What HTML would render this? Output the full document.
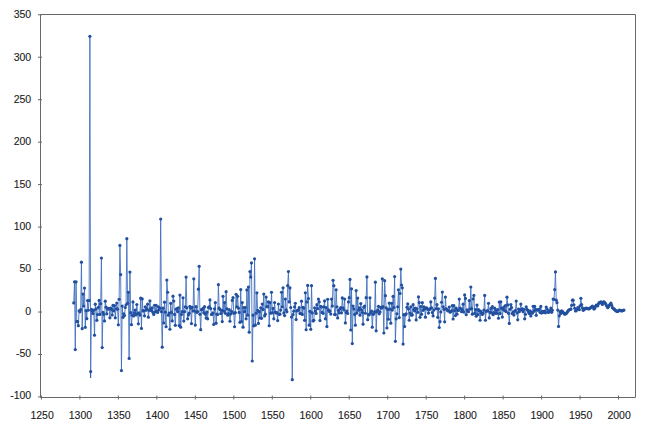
<!DOCTYPE html>
<html><head><meta charset="utf-8"><style>
html,body{margin:0;padding:0;background:#fff;}
body{width:645px;height:427px;overflow:hidden;position:relative;font-family:"Liberation Sans",sans-serif;}
svg{position:absolute;left:0;top:0;}
text{font-family:"Liberation Sans",sans-serif;font-size:10.5px;fill:#1a1a1a;stroke:#1a1a1a;stroke-width:0.1px;}
</style></head><body>
<svg width="645" height="427" viewBox="0 0 645 427">
<path d="M38 396.95H42M38 354.49H42M38 312.02H42M38 269.55H42M38 227.09H42M38 184.62H42M38 142.15H42M38 99.68H42M38 57.22H42M38 14.75H42M41.41 395.5V399.5M79.89 395.5V399.5M118.36 395.5V399.5M156.84 395.5V399.5M195.32 395.5V399.5M233.79 395.5V399.5M272.27 395.5V399.5M310.75 395.5V399.5M349.23 395.5V399.5M387.70 395.5V399.5M426.18 395.5V399.5M464.66 395.5V399.5M503.13 395.5V399.5M541.61 395.5V399.5M580.09 395.5V399.5M618.56 395.5V399.5" fill="none" stroke="#686868" stroke-width="1"/>
<text x="31.2" y="399.35" text-anchor="end">-100</text>
<text x="31.2" y="357.00" text-anchor="end">-50</text>
<text x="31.2" y="314.64" text-anchor="end">0</text>
<text x="31.2" y="272.29" text-anchor="end">50</text>
<text x="31.2" y="229.93" text-anchor="end">100</text>
<text x="31.2" y="187.57" text-anchor="end">150</text>
<text x="31.2" y="145.22" text-anchor="end">200</text>
<text x="31.2" y="102.86" text-anchor="end">250</text>
<text x="31.2" y="60.51" text-anchor="end">300</text>
<text x="31.2" y="18.15" text-anchor="end">350</text>
<text x="42.1" y="418.6" text-anchor="middle">1250</text>
<text x="80.4" y="418.6" text-anchor="middle">1300</text>
<text x="118.9" y="418.6" text-anchor="middle">1350</text>
<text x="157.3" y="418.6" text-anchor="middle">1400</text>
<text x="195.8" y="418.6" text-anchor="middle">1450</text>
<text x="234.3" y="418.6" text-anchor="middle">1500</text>
<text x="272.8" y="418.6" text-anchor="middle">1550</text>
<text x="311.2" y="418.6" text-anchor="middle">1600</text>
<text x="349.7" y="418.6" text-anchor="middle">1650</text>
<text x="388.2" y="418.6" text-anchor="middle">1700</text>
<text x="426.7" y="418.6" text-anchor="middle">1750</text>
<text x="465.2" y="418.6" text-anchor="middle">1800</text>
<text x="503.6" y="418.6" text-anchor="middle">1850</text>
<text x="542.1" y="418.6" text-anchor="middle">1900</text>
<text x="580.6" y="418.6" text-anchor="middle">1950</text>
<text x="619.1" y="418.6" text-anchor="middle">2000</text>
<path d="M73.73 302.90 74.50 281.80 75.27 349.60 76.04 281.80 76.81 321.60 77.58 321.60 78.35 325.65 79.12 310.81 79.89 311.85 80.66 309.71 81.43 262.20 82.20 328.65 82.97 294.05 83.73 306.00 84.50 288.05 85.27 327.35 86.04 310.67 86.81 318.65 87.58 300.50 88.35 310.24 89.12 300.50 89.89 36.30 90.66 371.60 91.43 309.43 92.20 311.00 92.97 313.53 93.74 310.20 94.51 335.20 95.28 304.15 96.05 309.00 96.82 320.35 97.59 314.50 98.36 307.33 99.13 300.45 99.90 314.46 100.66 303.75 101.43 258.00 102.20 347.60 102.97 312.33 103.74 314.49 104.51 320.96 105.28 301.20 106.05 307.16 106.82 313.80 107.59 309.00 108.36 308.35 109.13 308.90 109.90 317.85 110.67 308.20 111.44 309.30 112.21 314.99 112.98 305.40 113.75 311.00 114.52 305.58 115.29 317.85 116.06 308.75 116.82 303.05 117.59 309.14 118.36 324.84 119.13 299.35 119.90 245.40 120.67 274.60 121.44 370.60 122.21 306.10 122.98 317.30 123.75 313.81 124.52 315.50 125.29 307.50 126.06 304.75 126.83 238.70 127.60 303.30 128.37 292.30 129.14 358.40 129.91 272.10 130.68 312.70 131.45 324.70 132.22 315.26 132.99 301.95 133.75 315.90 134.52 313.00 135.29 310.03 136.06 314.81 136.83 304.50 137.60 313.48 138.37 323.83 139.14 312.95 139.91 315.11 140.68 298.20 141.45 328.46 142.22 298.95 142.99 310.69 143.76 310.92 144.53 315.80 145.30 306.83 146.07 310.13 146.84 308.89 147.61 304.15 148.38 317.15 149.15 310.32 149.92 300.97 150.68 308.67 151.45 310.75 152.22 307.85 152.99 312.58 153.76 314.50 154.53 305.25 155.30 312.00 156.07 305.27 156.84 311.00 157.61 312.40 158.38 306.86 159.15 309.80 159.92 308.21 160.69 219.00 161.46 311.70 162.23 347.20 163.00 308.20 163.77 323.00 164.54 302.17 165.31 312.21 166.08 326.75 166.85 280.00 167.61 292.25 168.38 315.20 169.15 313.07 169.92 329.24 170.69 303.35 171.46 312.47 172.23 320.90 173.00 296.15 173.77 301.10 174.54 314.40 175.31 325.33 176.08 309.25 176.85 308.49 177.62 311.60 178.39 307.80 179.16 325.60 179.93 295.05 180.70 327.20 181.47 314.50 182.24 311.71 183.01 297.75 183.77 321.10 184.54 311.70 185.31 306.86 186.08 277.10 186.85 307.80 187.62 318.80 188.39 314.98 189.16 313.21 189.93 306.35 190.70 308.20 191.47 323.55 192.24 307.26 193.01 311.00 193.78 278.80 194.55 311.00 195.32 325.10 196.09 306.67 196.86 312.40 197.63 311.62 198.40 289.15 199.17 266.30 199.94 314.37 200.70 329.65 201.47 309.65 202.24 309.60 203.01 308.38 203.78 312.70 204.55 306.70 205.32 314.25 206.09 318.05 206.86 312.16 207.63 318.80 208.40 307.50 209.17 306.81 209.94 299.90 210.71 308.55 211.48 314.50 212.25 313.99 213.02 312.90 213.79 324.40 214.56 308.90 215.33 302.70 216.10 323.20 216.87 314.13 217.63 314.48 218.40 284.70 219.17 308.22 219.94 309.60 220.71 313.48 221.48 310.24 222.25 321.60 223.02 296.30 223.79 311.20 224.56 302.60 225.33 313.37 226.10 291.65 226.87 308.78 227.64 315.20 228.41 313.88 229.18 309.52 229.95 321.25 230.72 314.00 231.49 311.42 232.26 300.45 233.03 297.70 233.79 313.18 234.56 326.76 235.33 312.70 236.10 294.25 236.87 306.75 237.64 296.30 238.41 308.17 239.18 312.41 239.95 322.30 240.72 289.60 241.49 321.60 242.26 302.53 243.03 327.20 243.80 307.48 244.57 311.70 245.34 307.50 246.11 318.80 246.88 289.95 247.65 315.20 248.42 287.00 249.19 332.20 249.96 271.50 250.72 277.10 251.49 262.90 252.26 361.00 253.03 315.20 253.80 325.80 254.57 258.80 255.34 325.20 256.11 313.20 256.88 292.80 257.65 310.30 258.42 323.40 259.19 311.65 259.96 318.00 260.73 307.74 261.50 318.30 262.27 304.00 263.04 309.54 263.81 294.05 264.58 315.90 265.35 314.14 266.12 297.10 266.89 306.59 267.65 306.80 268.42 301.90 269.19 325.75 269.96 302.60 270.73 313.18 271.50 292.25 272.27 312.80 273.04 308.43 273.81 318.80 274.58 302.60 275.35 312.20 276.12 313.10 276.89 312.48 277.66 320.60 278.43 304.00 279.20 314.37 279.97 314.23 280.74 310.04 281.51 292.25 282.28 306.80 283.05 287.80 283.82 312.93 284.58 315.60 285.35 299.10 286.12 309.89 286.89 311.83 287.66 285.65 288.43 271.50 289.20 301.90 289.97 287.80 290.74 307.50 291.51 317.10 292.28 379.70 293.05 314.50 293.82 311.15 294.59 306.85 295.36 303.25 296.13 319.60 296.90 310.88 297.67 310.30 298.44 310.11 299.21 307.63 299.98 313.44 300.74 313.68 301.51 301.13 302.28 314.40 303.05 307.28 303.82 308.05 304.59 320.34 305.36 292.77 306.13 329.76 306.90 301.90 307.67 285.47 308.44 298.53 309.21 325.20 309.98 311.35 310.75 329.36 311.52 285.66 312.29 312.88 313.06 320.90 313.83 320.30 314.60 307.85 315.37 311.00 316.14 313.38 316.91 304.70 317.67 308.72 318.44 299.10 319.21 301.90 319.98 320.56 320.75 306.45 321.52 307.01 322.29 312.40 323.06 313.32 323.83 306.92 324.60 300.90 325.37 318.80 326.14 307.50 326.91 326.54 327.68 299.26 328.45 309.86 329.22 311.42 329.99 311.00 330.76 314.11 331.53 299.10 332.30 306.10 333.07 280.30 333.84 285.65 334.60 314.50 335.37 314.66 336.14 289.80 336.91 306.81 337.68 317.90 338.45 310.30 339.22 312.97 339.99 309.00 340.76 307.50 341.53 312.81 342.30 297.90 343.07 307.99 343.84 309.93 344.61 299.10 345.38 322.95 346.15 312.50 346.92 311.00 347.69 313.51 348.46 301.90 349.23 297.70 350.00 279.40 350.77 330.00 351.53 288.80 352.30 343.55 353.07 306.10 353.84 308.88 354.61 314.41 355.38 325.20 356.15 290.60 356.92 313.06 357.69 298.10 358.46 310.24 359.23 307.76 360.00 315.20 360.77 303.55 361.54 309.78 362.31 312.61 363.08 324.20 363.85 307.20 364.62 306.10 365.39 313.26 366.16 297.70 366.93 276.90 367.69 319.70 368.46 314.50 369.23 314.85 370.00 297.75 370.77 312.71 371.54 311.20 372.31 327.20 373.08 314.48 373.85 313.50 374.62 311.70 375.39 282.20 376.16 330.80 376.93 311.86 377.70 310.13 378.47 306.35 379.24 313.87 380.01 311.92 380.78 307.43 381.55 308.20 382.32 278.80 383.09 306.67 383.86 333.00 384.62 280.70 385.39 295.64 386.16 307.85 386.93 328.00 387.70 309.41 388.47 319.25 389.24 303.03 390.01 309.12 390.78 323.20 391.55 303.30 392.32 310.03 393.09 296.30 393.86 307.50 394.63 276.60 395.40 341.30 396.17 318.80 396.94 313.80 397.71 306.80 398.48 289.80 399.25 317.55 400.02 293.40 400.79 269.10 401.55 285.00 402.32 287.80 403.09 344.10 403.86 314.70 404.63 326.55 405.40 314.84 406.17 313.80 406.94 307.26 407.71 303.90 408.48 309.04 409.25 320.25 410.02 313.10 410.79 306.81 411.56 315.20 412.33 314.81 413.10 304.70 413.87 309.59 414.64 310.90 415.41 308.20 416.18 319.90 416.95 308.79 417.72 312.28 418.48 296.90 419.25 302.60 420.02 317.30 420.79 306.51 421.56 314.36 422.33 302.70 423.10 310.36 423.87 306.80 424.64 308.73 425.41 317.20 426.18 307.94 426.95 308.20 427.72 309.33 428.49 313.10 429.26 309.61 430.03 308.85 430.80 301.90 431.57 307.82 432.34 312.60 433.11 315.90 433.88 310.08 434.64 298.10 435.41 278.40 436.18 308.61 436.95 304.70 437.72 317.30 438.49 308.82 439.26 327.50 440.03 321.60 440.80 311.90 441.57 302.25 442.34 292.05 443.11 306.80 443.88 309.37 444.65 321.85 445.42 297.10 446.19 308.87 446.96 309.60 447.73 310.85 448.50 310.49 449.27 307.00 450.04 312.14 450.81 311.70 451.57 310.78 452.34 305.60 453.11 319.00 453.88 305.70 454.65 310.60 455.42 315.60 456.19 308.20 456.96 314.19 457.73 310.30 458.50 310.39 459.27 299.10 460.04 307.99 460.81 308.76 461.58 311.65 462.35 309.79 463.12 304.20 463.89 312.10 464.66 294.90 465.43 298.40 466.20 314.68 466.97 309.74 467.74 310.79 468.50 311.75 469.27 300.55 470.04 309.04 470.81 287.00 471.58 308.55 472.35 314.17 473.12 298.95 473.89 295.47 474.66 313.45 475.43 309.64 476.20 316.25 476.97 305.00 477.74 314.53 478.51 309.60 479.28 310.65 480.05 320.27 480.82 311.47 481.59 313.10 482.36 314.50 483.13 313.18 483.90 309.99 484.67 295.45 485.43 320.27 486.20 311.36 486.97 311.00 487.74 310.56 488.51 303.35 489.28 317.90 490.05 312.40 490.82 308.49 491.59 313.00 492.36 306.55 493.13 314.66 493.90 312.69 494.67 308.20 495.44 313.30 496.21 310.13 496.98 313.36 497.75 309.60 498.52 318.26 499.29 302.00 500.06 313.58 500.83 301.80 501.59 308.20 502.36 317.05 503.13 309.28 503.90 307.00 504.67 310.53 505.44 305.60 506.21 311.64 506.98 297.17 507.75 304.90 508.52 313.35 509.29 323.40 510.06 309.34 510.83 304.56 511.60 307.50 512.37 313.70 513.14 312.22 513.91 315.10 514.68 311.20 515.45 310.49 516.22 301.03 516.99 312.88 517.76 319.80 518.52 309.00 519.29 311.69 520.06 309.80 520.83 304.04 521.60 309.78 522.37 308.90 523.14 311.70 523.91 309.23 524.68 318.82 525.45 314.25 526.22 306.73 526.99 309.40 527.76 310.30 528.53 311.93 529.30 313.60 530.07 310.92 530.84 315.97 531.61 312.27 532.38 313.19 533.15 306.23 533.92 311.36 534.69 306.45 535.45 309.62 536.22 315.28 536.99 309.57 537.76 310.26 538.53 309.80 539.30 309.05 540.07 312.48 540.84 306.47 541.61 313.03 542.38 311.45 543.15 311.60 543.92 312.49 544.69 311.00 545.46 312.80 546.23 307.00 547.00 309.10 547.77 311.78 548.54 312.50 549.31 310.70 550.08 311.37 550.85 308.04 551.62 312.28 552.38 310.30 553.15 299.07 553.92 299.36 554.69 289.60 555.46 271.93 556.23 300.21 557.00 302.68 557.77 310.07 558.54 326.46 559.31 315.84 560.08 311.68 560.85 313.38 561.62 310.91 562.39 311.54 563.16 312.34 563.93 313.26 564.70 314.18 565.47 313.89 566.24 313.42 567.01 312.58 567.78 311.41 568.54 310.24 569.31 309.75 570.08 309.45 570.85 309.14 571.62 305.28 572.39 300.20 573.16 300.20 573.93 304.84 574.70 308.27 575.47 310.99 576.24 310.74 577.01 309.23 577.78 307.72 578.55 307.77 579.32 309.69 580.09 305.73 580.86 298.36 581.63 304.61 582.40 307.93 583.17 310.34 583.94 309.65 584.71 308.97 585.47 308.28 586.24 308.03 587.01 308.33 587.78 308.61 588.55 308.90 589.32 308.65 590.09 308.12 590.86 307.48 591.63 306.83 592.40 306.19 593.17 307.48 593.94 309.06 594.71 308.30 595.48 306.33 596.25 305.16 597.02 305.66 597.79 305.85 598.56 303.60 599.33 302.65 600.10 302.29 600.87 301.91 601.64 303.17 602.40 304.49 603.17 302.19 603.94 301.83 604.71 302.70 605.48 303.58 606.25 304.94 607.02 306.33 607.79 307.71 608.56 306.58 609.33 305.26 610.10 304.23 610.87 303.20 611.64 305.16 612.41 307.66 613.18 308.27 613.95 308.95 614.72 309.72 615.49 310.42 616.26 310.94 617.03 311.45 617.80 311.38 618.56 310.75 619.33 310.13 620.10 310.29 620.87 310.65 621.64 310.98 622.41 310.68 623.18 310.36 623.95 310.06" fill="none" stroke="#3b6bbd" stroke-width="0.85" stroke-linejoin="miter" stroke-miterlimit="4"/>
<path d="M90.6 371.5V378" stroke="#2e5fb2" stroke-width="1.2"/>
<g fill="#22509f"><circle cx="73.73" cy="302.90" r="1.6"/><circle cx="74.50" cy="281.80" r="1.6"/><circle cx="75.27" cy="349.60" r="1.6"/><circle cx="76.04" cy="281.80" r="1.6"/><circle cx="76.81" cy="321.60" r="1.6"/><circle cx="77.58" cy="321.60" r="1.6"/><circle cx="78.35" cy="325.65" r="1.6"/><circle cx="79.12" cy="310.81" r="1.6"/><circle cx="79.89" cy="311.85" r="1.6"/><circle cx="80.66" cy="309.71" r="1.6"/><circle cx="81.43" cy="262.20" r="1.6"/><circle cx="82.20" cy="328.65" r="1.6"/><circle cx="82.97" cy="294.05" r="1.6"/><circle cx="83.73" cy="306.00" r="1.6"/><circle cx="84.50" cy="288.05" r="1.6"/><circle cx="85.27" cy="327.35" r="1.6"/><circle cx="86.04" cy="310.67" r="1.6"/><circle cx="86.81" cy="318.65" r="1.6"/><circle cx="87.58" cy="300.50" r="1.6"/><circle cx="88.35" cy="310.24" r="1.6"/><circle cx="89.12" cy="300.50" r="1.6"/><circle cx="89.89" cy="36.30" r="1.6"/><circle cx="90.66" cy="371.60" r="1.6"/><circle cx="91.43" cy="309.43" r="1.6"/><circle cx="92.20" cy="311.00" r="1.6"/><circle cx="92.97" cy="313.53" r="1.6"/><circle cx="93.74" cy="310.20" r="1.6"/><circle cx="94.51" cy="335.20" r="1.6"/><circle cx="95.28" cy="304.15" r="1.6"/><circle cx="96.05" cy="309.00" r="1.6"/><circle cx="96.82" cy="320.35" r="1.6"/><circle cx="97.59" cy="314.50" r="1.6"/><circle cx="98.36" cy="307.33" r="1.6"/><circle cx="99.13" cy="300.45" r="1.6"/><circle cx="99.90" cy="314.46" r="1.6"/><circle cx="100.66" cy="303.75" r="1.6"/><circle cx="101.43" cy="258.00" r="1.6"/><circle cx="102.20" cy="347.60" r="1.6"/><circle cx="102.97" cy="312.33" r="1.6"/><circle cx="103.74" cy="314.49" r="1.6"/><circle cx="104.51" cy="320.96" r="1.6"/><circle cx="105.28" cy="301.20" r="1.6"/><circle cx="106.05" cy="307.16" r="1.6"/><circle cx="106.82" cy="313.80" r="1.6"/><circle cx="107.59" cy="309.00" r="1.6"/><circle cx="108.36" cy="308.35" r="1.6"/><circle cx="109.13" cy="308.90" r="1.6"/><circle cx="109.90" cy="317.85" r="1.6"/><circle cx="110.67" cy="308.20" r="1.6"/><circle cx="111.44" cy="309.30" r="1.6"/><circle cx="112.21" cy="314.99" r="1.6"/><circle cx="112.98" cy="305.40" r="1.6"/><circle cx="113.75" cy="311.00" r="1.6"/><circle cx="114.52" cy="305.58" r="1.6"/><circle cx="115.29" cy="317.85" r="1.6"/><circle cx="116.06" cy="308.75" r="1.6"/><circle cx="116.82" cy="303.05" r="1.6"/><circle cx="117.59" cy="309.14" r="1.6"/><circle cx="118.36" cy="324.84" r="1.6"/><circle cx="119.13" cy="299.35" r="1.6"/><circle cx="119.90" cy="245.40" r="1.6"/><circle cx="120.67" cy="274.60" r="1.6"/><circle cx="121.44" cy="370.60" r="1.6"/><circle cx="122.21" cy="306.10" r="1.6"/><circle cx="122.98" cy="317.30" r="1.6"/><circle cx="123.75" cy="313.81" r="1.6"/><circle cx="124.52" cy="315.50" r="1.6"/><circle cx="125.29" cy="307.50" r="1.6"/><circle cx="126.06" cy="304.75" r="1.6"/><circle cx="126.83" cy="238.70" r="1.6"/><circle cx="127.60" cy="303.30" r="1.6"/><circle cx="128.37" cy="292.30" r="1.6"/><circle cx="129.14" cy="358.40" r="1.6"/><circle cx="129.91" cy="272.10" r="1.6"/><circle cx="130.68" cy="312.70" r="1.6"/><circle cx="131.45" cy="324.70" r="1.6"/><circle cx="132.22" cy="315.26" r="1.6"/><circle cx="132.99" cy="301.95" r="1.6"/><circle cx="133.75" cy="315.90" r="1.6"/><circle cx="134.52" cy="313.00" r="1.6"/><circle cx="135.29" cy="310.03" r="1.6"/><circle cx="136.06" cy="314.81" r="1.6"/><circle cx="136.83" cy="304.50" r="1.6"/><circle cx="137.60" cy="313.48" r="1.6"/><circle cx="138.37" cy="323.83" r="1.6"/><circle cx="139.14" cy="312.95" r="1.6"/><circle cx="139.91" cy="315.11" r="1.6"/><circle cx="140.68" cy="298.20" r="1.6"/><circle cx="141.45" cy="328.46" r="1.6"/><circle cx="142.22" cy="298.95" r="1.6"/><circle cx="142.99" cy="310.69" r="1.6"/><circle cx="143.76" cy="310.92" r="1.6"/><circle cx="144.53" cy="315.80" r="1.6"/><circle cx="145.30" cy="306.83" r="1.6"/><circle cx="146.07" cy="310.13" r="1.6"/><circle cx="146.84" cy="308.89" r="1.6"/><circle cx="147.61" cy="304.15" r="1.6"/><circle cx="148.38" cy="317.15" r="1.6"/><circle cx="149.15" cy="310.32" r="1.6"/><circle cx="149.92" cy="300.97" r="1.6"/><circle cx="150.68" cy="308.67" r="1.6"/><circle cx="151.45" cy="310.75" r="1.6"/><circle cx="152.22" cy="307.85" r="1.6"/><circle cx="152.99" cy="312.58" r="1.6"/><circle cx="153.76" cy="314.50" r="1.6"/><circle cx="154.53" cy="305.25" r="1.6"/><circle cx="155.30" cy="312.00" r="1.6"/><circle cx="156.07" cy="305.27" r="1.6"/><circle cx="156.84" cy="311.00" r="1.6"/><circle cx="157.61" cy="312.40" r="1.6"/><circle cx="158.38" cy="306.86" r="1.6"/><circle cx="159.15" cy="309.80" r="1.6"/><circle cx="159.92" cy="308.21" r="1.6"/><circle cx="160.69" cy="219.00" r="1.6"/><circle cx="161.46" cy="311.70" r="1.6"/><circle cx="162.23" cy="347.20" r="1.6"/><circle cx="163.00" cy="308.20" r="1.6"/><circle cx="163.77" cy="323.00" r="1.6"/><circle cx="164.54" cy="302.17" r="1.6"/><circle cx="165.31" cy="312.21" r="1.6"/><circle cx="166.08" cy="326.75" r="1.6"/><circle cx="166.85" cy="280.00" r="1.6"/><circle cx="167.61" cy="292.25" r="1.6"/><circle cx="168.38" cy="315.20" r="1.6"/><circle cx="169.15" cy="313.07" r="1.6"/><circle cx="169.92" cy="329.24" r="1.6"/><circle cx="170.69" cy="303.35" r="1.6"/><circle cx="171.46" cy="312.47" r="1.6"/><circle cx="172.23" cy="320.90" r="1.6"/><circle cx="173.00" cy="296.15" r="1.6"/><circle cx="173.77" cy="301.10" r="1.6"/><circle cx="174.54" cy="314.40" r="1.6"/><circle cx="175.31" cy="325.33" r="1.6"/><circle cx="176.08" cy="309.25" r="1.6"/><circle cx="176.85" cy="308.49" r="1.6"/><circle cx="177.62" cy="311.60" r="1.6"/><circle cx="178.39" cy="307.80" r="1.6"/><circle cx="179.16" cy="325.60" r="1.6"/><circle cx="179.93" cy="295.05" r="1.6"/><circle cx="180.70" cy="327.20" r="1.6"/><circle cx="181.47" cy="314.50" r="1.6"/><circle cx="182.24" cy="311.71" r="1.6"/><circle cx="183.01" cy="297.75" r="1.6"/><circle cx="183.77" cy="321.10" r="1.6"/><circle cx="184.54" cy="311.70" r="1.6"/><circle cx="185.31" cy="306.86" r="1.6"/><circle cx="186.08" cy="277.10" r="1.6"/><circle cx="186.85" cy="307.80" r="1.6"/><circle cx="187.62" cy="318.80" r="1.6"/><circle cx="188.39" cy="314.98" r="1.6"/><circle cx="189.16" cy="313.21" r="1.6"/><circle cx="189.93" cy="306.35" r="1.6"/><circle cx="190.70" cy="308.20" r="1.6"/><circle cx="191.47" cy="323.55" r="1.6"/><circle cx="192.24" cy="307.26" r="1.6"/><circle cx="193.01" cy="311.00" r="1.6"/><circle cx="193.78" cy="278.80" r="1.6"/><circle cx="194.55" cy="311.00" r="1.6"/><circle cx="195.32" cy="325.10" r="1.6"/><circle cx="196.09" cy="306.67" r="1.6"/><circle cx="196.86" cy="312.40" r="1.6"/><circle cx="197.63" cy="311.62" r="1.6"/><circle cx="198.40" cy="289.15" r="1.6"/><circle cx="199.17" cy="266.30" r="1.6"/><circle cx="199.94" cy="314.37" r="1.6"/><circle cx="200.70" cy="329.65" r="1.6"/><circle cx="201.47" cy="309.65" r="1.6"/><circle cx="202.24" cy="309.60" r="1.6"/><circle cx="203.01" cy="308.38" r="1.6"/><circle cx="203.78" cy="312.70" r="1.6"/><circle cx="204.55" cy="306.70" r="1.6"/><circle cx="205.32" cy="314.25" r="1.6"/><circle cx="206.09" cy="318.05" r="1.6"/><circle cx="206.86" cy="312.16" r="1.6"/><circle cx="207.63" cy="318.80" r="1.6"/><circle cx="208.40" cy="307.50" r="1.6"/><circle cx="209.17" cy="306.81" r="1.6"/><circle cx="209.94" cy="299.90" r="1.6"/><circle cx="210.71" cy="308.55" r="1.6"/><circle cx="211.48" cy="314.50" r="1.6"/><circle cx="212.25" cy="313.99" r="1.6"/><circle cx="213.02" cy="312.90" r="1.6"/><circle cx="213.79" cy="324.40" r="1.6"/><circle cx="214.56" cy="308.90" r="1.6"/><circle cx="215.33" cy="302.70" r="1.6"/><circle cx="216.10" cy="323.20" r="1.6"/><circle cx="216.87" cy="314.13" r="1.6"/><circle cx="217.63" cy="314.48" r="1.6"/><circle cx="218.40" cy="284.70" r="1.6"/><circle cx="219.17" cy="308.22" r="1.6"/><circle cx="219.94" cy="309.60" r="1.6"/><circle cx="220.71" cy="313.48" r="1.6"/><circle cx="221.48" cy="310.24" r="1.6"/><circle cx="222.25" cy="321.60" r="1.6"/><circle cx="223.02" cy="296.30" r="1.6"/><circle cx="223.79" cy="311.20" r="1.6"/><circle cx="224.56" cy="302.60" r="1.6"/><circle cx="225.33" cy="313.37" r="1.6"/><circle cx="226.10" cy="291.65" r="1.6"/><circle cx="226.87" cy="308.78" r="1.6"/><circle cx="227.64" cy="315.20" r="1.6"/><circle cx="228.41" cy="313.88" r="1.6"/><circle cx="229.18" cy="309.52" r="1.6"/><circle cx="229.95" cy="321.25" r="1.6"/><circle cx="230.72" cy="314.00" r="1.6"/><circle cx="231.49" cy="311.42" r="1.6"/><circle cx="232.26" cy="300.45" r="1.6"/><circle cx="233.03" cy="297.70" r="1.6"/><circle cx="233.79" cy="313.18" r="1.6"/><circle cx="234.56" cy="326.76" r="1.6"/><circle cx="235.33" cy="312.70" r="1.6"/><circle cx="236.10" cy="294.25" r="1.6"/><circle cx="236.87" cy="306.75" r="1.6"/><circle cx="237.64" cy="296.30" r="1.6"/><circle cx="238.41" cy="308.17" r="1.6"/><circle cx="239.18" cy="312.41" r="1.6"/><circle cx="239.95" cy="322.30" r="1.6"/><circle cx="240.72" cy="289.60" r="1.6"/><circle cx="241.49" cy="321.60" r="1.6"/><circle cx="242.26" cy="302.53" r="1.6"/><circle cx="243.03" cy="327.20" r="1.6"/><circle cx="243.80" cy="307.48" r="1.6"/><circle cx="244.57" cy="311.70" r="1.6"/><circle cx="245.34" cy="307.50" r="1.6"/><circle cx="246.11" cy="318.80" r="1.6"/><circle cx="246.88" cy="289.95" r="1.6"/><circle cx="247.65" cy="315.20" r="1.6"/><circle cx="248.42" cy="287.00" r="1.6"/><circle cx="249.19" cy="332.20" r="1.6"/><circle cx="249.96" cy="271.50" r="1.6"/><circle cx="250.72" cy="277.10" r="1.6"/><circle cx="251.49" cy="262.90" r="1.6"/><circle cx="252.26" cy="361.00" r="1.6"/><circle cx="253.03" cy="315.20" r="1.6"/><circle cx="253.80" cy="325.80" r="1.6"/><circle cx="254.57" cy="258.80" r="1.6"/><circle cx="255.34" cy="325.20" r="1.6"/><circle cx="256.11" cy="313.20" r="1.6"/><circle cx="256.88" cy="292.80" r="1.6"/><circle cx="257.65" cy="310.30" r="1.6"/><circle cx="258.42" cy="323.40" r="1.6"/><circle cx="259.19" cy="311.65" r="1.6"/><circle cx="259.96" cy="318.00" r="1.6"/><circle cx="260.73" cy="307.74" r="1.6"/><circle cx="261.50" cy="318.30" r="1.6"/><circle cx="262.27" cy="304.00" r="1.6"/><circle cx="263.04" cy="309.54" r="1.6"/><circle cx="263.81" cy="294.05" r="1.6"/><circle cx="264.58" cy="315.90" r="1.6"/><circle cx="265.35" cy="314.14" r="1.6"/><circle cx="266.12" cy="297.10" r="1.6"/><circle cx="266.89" cy="306.59" r="1.6"/><circle cx="267.65" cy="306.80" r="1.6"/><circle cx="268.42" cy="301.90" r="1.6"/><circle cx="269.19" cy="325.75" r="1.6"/><circle cx="269.96" cy="302.60" r="1.6"/><circle cx="270.73" cy="313.18" r="1.6"/><circle cx="271.50" cy="292.25" r="1.6"/><circle cx="272.27" cy="312.80" r="1.6"/><circle cx="273.04" cy="308.43" r="1.6"/><circle cx="273.81" cy="318.80" r="1.6"/><circle cx="274.58" cy="302.60" r="1.6"/><circle cx="275.35" cy="312.20" r="1.6"/><circle cx="276.12" cy="313.10" r="1.6"/><circle cx="276.89" cy="312.48" r="1.6"/><circle cx="277.66" cy="320.60" r="1.6"/><circle cx="278.43" cy="304.00" r="1.6"/><circle cx="279.20" cy="314.37" r="1.6"/><circle cx="279.97" cy="314.23" r="1.6"/><circle cx="280.74" cy="310.04" r="1.6"/><circle cx="281.51" cy="292.25" r="1.6"/><circle cx="282.28" cy="306.80" r="1.6"/><circle cx="283.05" cy="287.80" r="1.6"/><circle cx="283.82" cy="312.93" r="1.6"/><circle cx="284.58" cy="315.60" r="1.6"/><circle cx="285.35" cy="299.10" r="1.6"/><circle cx="286.12" cy="309.89" r="1.6"/><circle cx="286.89" cy="311.83" r="1.6"/><circle cx="287.66" cy="285.65" r="1.6"/><circle cx="288.43" cy="271.50" r="1.6"/><circle cx="289.20" cy="301.90" r="1.6"/><circle cx="289.97" cy="287.80" r="1.6"/><circle cx="290.74" cy="307.50" r="1.6"/><circle cx="291.51" cy="317.10" r="1.6"/><circle cx="292.28" cy="379.70" r="1.6"/><circle cx="293.05" cy="314.50" r="1.6"/><circle cx="293.82" cy="311.15" r="1.6"/><circle cx="294.59" cy="306.85" r="1.6"/><circle cx="295.36" cy="303.25" r="1.6"/><circle cx="296.13" cy="319.60" r="1.6"/><circle cx="296.90" cy="310.88" r="1.6"/><circle cx="297.67" cy="310.30" r="1.6"/><circle cx="298.44" cy="310.11" r="1.6"/><circle cx="299.21" cy="307.63" r="1.6"/><circle cx="299.98" cy="313.44" r="1.6"/><circle cx="300.74" cy="313.68" r="1.6"/><circle cx="301.51" cy="301.13" r="1.6"/><circle cx="302.28" cy="314.40" r="1.6"/><circle cx="303.05" cy="307.28" r="1.6"/><circle cx="303.82" cy="308.05" r="1.6"/><circle cx="304.59" cy="320.34" r="1.6"/><circle cx="305.36" cy="292.77" r="1.6"/><circle cx="306.13" cy="329.76" r="1.6"/><circle cx="306.90" cy="301.90" r="1.6"/><circle cx="307.67" cy="285.47" r="1.6"/><circle cx="308.44" cy="298.53" r="1.6"/><circle cx="309.21" cy="325.20" r="1.6"/><circle cx="309.98" cy="311.35" r="1.6"/><circle cx="310.75" cy="329.36" r="1.6"/><circle cx="311.52" cy="285.66" r="1.6"/><circle cx="312.29" cy="312.88" r="1.6"/><circle cx="313.06" cy="320.90" r="1.6"/><circle cx="313.83" cy="320.30" r="1.6"/><circle cx="314.60" cy="307.85" r="1.6"/><circle cx="315.37" cy="311.00" r="1.6"/><circle cx="316.14" cy="313.38" r="1.6"/><circle cx="316.91" cy="304.70" r="1.6"/><circle cx="317.67" cy="308.72" r="1.6"/><circle cx="318.44" cy="299.10" r="1.6"/><circle cx="319.21" cy="301.90" r="1.6"/><circle cx="319.98" cy="320.56" r="1.6"/><circle cx="320.75" cy="306.45" r="1.6"/><circle cx="321.52" cy="307.01" r="1.6"/><circle cx="322.29" cy="312.40" r="1.6"/><circle cx="323.06" cy="313.32" r="1.6"/><circle cx="323.83" cy="306.92" r="1.6"/><circle cx="324.60" cy="300.90" r="1.6"/><circle cx="325.37" cy="318.80" r="1.6"/><circle cx="326.14" cy="307.50" r="1.6"/><circle cx="326.91" cy="326.54" r="1.6"/><circle cx="327.68" cy="299.26" r="1.6"/><circle cx="328.45" cy="309.86" r="1.6"/><circle cx="329.22" cy="311.42" r="1.6"/><circle cx="329.99" cy="311.00" r="1.6"/><circle cx="330.76" cy="314.11" r="1.6"/><circle cx="331.53" cy="299.10" r="1.6"/><circle cx="332.30" cy="306.10" r="1.6"/><circle cx="333.07" cy="280.30" r="1.6"/><circle cx="333.84" cy="285.65" r="1.6"/><circle cx="334.60" cy="314.50" r="1.6"/><circle cx="335.37" cy="314.66" r="1.6"/><circle cx="336.14" cy="289.80" r="1.6"/><circle cx="336.91" cy="306.81" r="1.6"/><circle cx="337.68" cy="317.90" r="1.6"/><circle cx="338.45" cy="310.30" r="1.6"/><circle cx="339.22" cy="312.97" r="1.6"/><circle cx="339.99" cy="309.00" r="1.6"/><circle cx="340.76" cy="307.50" r="1.6"/><circle cx="341.53" cy="312.81" r="1.6"/><circle cx="342.30" cy="297.90" r="1.6"/><circle cx="343.07" cy="307.99" r="1.6"/><circle cx="343.84" cy="309.93" r="1.6"/><circle cx="344.61" cy="299.10" r="1.6"/><circle cx="345.38" cy="322.95" r="1.6"/><circle cx="346.15" cy="312.50" r="1.6"/><circle cx="346.92" cy="311.00" r="1.6"/><circle cx="347.69" cy="313.51" r="1.6"/><circle cx="348.46" cy="301.90" r="1.6"/><circle cx="349.23" cy="297.70" r="1.6"/><circle cx="350.00" cy="279.40" r="1.6"/><circle cx="350.77" cy="330.00" r="1.6"/><circle cx="351.53" cy="288.80" r="1.6"/><circle cx="352.30" cy="343.55" r="1.6"/><circle cx="353.07" cy="306.10" r="1.6"/><circle cx="353.84" cy="308.88" r="1.6"/><circle cx="354.61" cy="314.41" r="1.6"/><circle cx="355.38" cy="325.20" r="1.6"/><circle cx="356.15" cy="290.60" r="1.6"/><circle cx="356.92" cy="313.06" r="1.6"/><circle cx="357.69" cy="298.10" r="1.6"/><circle cx="358.46" cy="310.24" r="1.6"/><circle cx="359.23" cy="307.76" r="1.6"/><circle cx="360.00" cy="315.20" r="1.6"/><circle cx="360.77" cy="303.55" r="1.6"/><circle cx="361.54" cy="309.78" r="1.6"/><circle cx="362.31" cy="312.61" r="1.6"/><circle cx="363.08" cy="324.20" r="1.6"/><circle cx="363.85" cy="307.20" r="1.6"/><circle cx="364.62" cy="306.10" r="1.6"/><circle cx="365.39" cy="313.26" r="1.6"/><circle cx="366.16" cy="297.70" r="1.6"/><circle cx="366.93" cy="276.90" r="1.6"/><circle cx="367.69" cy="319.70" r="1.6"/><circle cx="368.46" cy="314.50" r="1.6"/><circle cx="369.23" cy="314.85" r="1.6"/><circle cx="370.00" cy="297.75" r="1.6"/><circle cx="370.77" cy="312.71" r="1.6"/><circle cx="371.54" cy="311.20" r="1.6"/><circle cx="372.31" cy="327.20" r="1.6"/><circle cx="373.08" cy="314.48" r="1.6"/><circle cx="373.85" cy="313.50" r="1.6"/><circle cx="374.62" cy="311.70" r="1.6"/><circle cx="375.39" cy="282.20" r="1.6"/><circle cx="376.16" cy="330.80" r="1.6"/><circle cx="376.93" cy="311.86" r="1.6"/><circle cx="377.70" cy="310.13" r="1.6"/><circle cx="378.47" cy="306.35" r="1.6"/><circle cx="379.24" cy="313.87" r="1.6"/><circle cx="380.01" cy="311.92" r="1.6"/><circle cx="380.78" cy="307.43" r="1.6"/><circle cx="381.55" cy="308.20" r="1.6"/><circle cx="382.32" cy="278.80" r="1.6"/><circle cx="383.09" cy="306.67" r="1.6"/><circle cx="383.86" cy="333.00" r="1.6"/><circle cx="384.62" cy="280.70" r="1.6"/><circle cx="385.39" cy="295.64" r="1.6"/><circle cx="386.16" cy="307.85" r="1.6"/><circle cx="386.93" cy="328.00" r="1.6"/><circle cx="387.70" cy="309.41" r="1.6"/><circle cx="388.47" cy="319.25" r="1.6"/><circle cx="389.24" cy="303.03" r="1.6"/><circle cx="390.01" cy="309.12" r="1.6"/><circle cx="390.78" cy="323.20" r="1.6"/><circle cx="391.55" cy="303.30" r="1.6"/><circle cx="392.32" cy="310.03" r="1.6"/><circle cx="393.09" cy="296.30" r="1.6"/><circle cx="393.86" cy="307.50" r="1.6"/><circle cx="394.63" cy="276.60" r="1.6"/><circle cx="395.40" cy="341.30" r="1.6"/><circle cx="396.17" cy="318.80" r="1.6"/><circle cx="396.94" cy="313.80" r="1.6"/><circle cx="397.71" cy="306.80" r="1.6"/><circle cx="398.48" cy="289.80" r="1.6"/><circle cx="399.25" cy="317.55" r="1.6"/><circle cx="400.02" cy="293.40" r="1.6"/><circle cx="400.79" cy="269.10" r="1.6"/><circle cx="401.55" cy="285.00" r="1.6"/><circle cx="402.32" cy="287.80" r="1.6"/><circle cx="403.09" cy="344.10" r="1.6"/><circle cx="403.86" cy="314.70" r="1.6"/><circle cx="404.63" cy="326.55" r="1.6"/><circle cx="405.40" cy="314.84" r="1.6"/><circle cx="406.17" cy="313.80" r="1.6"/><circle cx="406.94" cy="307.26" r="1.6"/><circle cx="407.71" cy="303.90" r="1.6"/><circle cx="408.48" cy="309.04" r="1.6"/><circle cx="409.25" cy="320.25" r="1.6"/><circle cx="410.02" cy="313.10" r="1.6"/><circle cx="410.79" cy="306.81" r="1.6"/><circle cx="411.56" cy="315.20" r="1.6"/><circle cx="412.33" cy="314.81" r="1.6"/><circle cx="413.10" cy="304.70" r="1.6"/><circle cx="413.87" cy="309.59" r="1.6"/><circle cx="414.64" cy="310.90" r="1.6"/><circle cx="415.41" cy="308.20" r="1.6"/><circle cx="416.18" cy="319.90" r="1.6"/><circle cx="416.95" cy="308.79" r="1.6"/><circle cx="417.72" cy="312.28" r="1.6"/><circle cx="418.48" cy="296.90" r="1.6"/><circle cx="419.25" cy="302.60" r="1.6"/><circle cx="420.02" cy="317.30" r="1.6"/><circle cx="420.79" cy="306.51" r="1.6"/><circle cx="421.56" cy="314.36" r="1.6"/><circle cx="422.33" cy="302.70" r="1.6"/><circle cx="423.10" cy="310.36" r="1.6"/><circle cx="423.87" cy="306.80" r="1.6"/><circle cx="424.64" cy="308.73" r="1.6"/><circle cx="425.41" cy="317.20" r="1.6"/><circle cx="426.18" cy="307.94" r="1.6"/><circle cx="426.95" cy="308.20" r="1.6"/><circle cx="427.72" cy="309.33" r="1.6"/><circle cx="428.49" cy="313.10" r="1.6"/><circle cx="429.26" cy="309.61" r="1.6"/><circle cx="430.03" cy="308.85" r="1.6"/><circle cx="430.80" cy="301.90" r="1.6"/><circle cx="431.57" cy="307.82" r="1.6"/><circle cx="432.34" cy="312.60" r="1.6"/><circle cx="433.11" cy="315.90" r="1.6"/><circle cx="433.88" cy="310.08" r="1.6"/><circle cx="434.64" cy="298.10" r="1.6"/><circle cx="435.41" cy="278.40" r="1.6"/><circle cx="436.18" cy="308.61" r="1.6"/><circle cx="436.95" cy="304.70" r="1.6"/><circle cx="437.72" cy="317.30" r="1.6"/><circle cx="438.49" cy="308.82" r="1.6"/><circle cx="439.26" cy="327.50" r="1.6"/><circle cx="440.03" cy="321.60" r="1.6"/><circle cx="440.80" cy="311.90" r="1.6"/><circle cx="441.57" cy="302.25" r="1.6"/><circle cx="442.34" cy="292.05" r="1.6"/><circle cx="443.11" cy="306.80" r="1.6"/><circle cx="443.88" cy="309.37" r="1.6"/><circle cx="444.65" cy="321.85" r="1.6"/><circle cx="445.42" cy="297.10" r="1.6"/><circle cx="446.19" cy="308.87" r="1.6"/><circle cx="446.96" cy="309.60" r="1.6"/><circle cx="447.73" cy="310.85" r="1.6"/><circle cx="448.50" cy="310.49" r="1.6"/><circle cx="449.27" cy="307.00" r="1.6"/><circle cx="450.04" cy="312.14" r="1.6"/><circle cx="450.81" cy="311.70" r="1.6"/><circle cx="451.57" cy="310.78" r="1.6"/><circle cx="452.34" cy="305.60" r="1.6"/><circle cx="453.11" cy="319.00" r="1.6"/><circle cx="453.88" cy="305.70" r="1.6"/><circle cx="454.65" cy="310.60" r="1.6"/><circle cx="455.42" cy="315.60" r="1.6"/><circle cx="456.19" cy="308.20" r="1.6"/><circle cx="456.96" cy="314.19" r="1.6"/><circle cx="457.73" cy="310.30" r="1.6"/><circle cx="458.50" cy="310.39" r="1.6"/><circle cx="459.27" cy="299.10" r="1.6"/><circle cx="460.04" cy="307.99" r="1.6"/><circle cx="460.81" cy="308.76" r="1.6"/><circle cx="461.58" cy="311.65" r="1.6"/><circle cx="462.35" cy="309.79" r="1.6"/><circle cx="463.12" cy="304.20" r="1.6"/><circle cx="463.89" cy="312.10" r="1.6"/><circle cx="464.66" cy="294.90" r="1.6"/><circle cx="465.43" cy="298.40" r="1.6"/><circle cx="466.20" cy="314.68" r="1.6"/><circle cx="466.97" cy="309.74" r="1.6"/><circle cx="467.74" cy="310.79" r="1.6"/><circle cx="468.50" cy="311.75" r="1.6"/><circle cx="469.27" cy="300.55" r="1.6"/><circle cx="470.04" cy="309.04" r="1.6"/><circle cx="470.81" cy="287.00" r="1.6"/><circle cx="471.58" cy="308.55" r="1.6"/><circle cx="472.35" cy="314.17" r="1.6"/><circle cx="473.12" cy="298.95" r="1.6"/><circle cx="473.89" cy="295.47" r="1.6"/><circle cx="474.66" cy="313.45" r="1.6"/><circle cx="475.43" cy="309.64" r="1.6"/><circle cx="476.20" cy="316.25" r="1.6"/><circle cx="476.97" cy="305.00" r="1.6"/><circle cx="477.74" cy="314.53" r="1.6"/><circle cx="478.51" cy="309.60" r="1.6"/><circle cx="479.28" cy="310.65" r="1.6"/><circle cx="480.05" cy="320.27" r="1.6"/><circle cx="480.82" cy="311.47" r="1.6"/><circle cx="481.59" cy="313.10" r="1.6"/><circle cx="482.36" cy="314.50" r="1.6"/><circle cx="483.13" cy="313.18" r="1.6"/><circle cx="483.90" cy="309.99" r="1.6"/><circle cx="484.67" cy="295.45" r="1.6"/><circle cx="485.43" cy="320.27" r="1.6"/><circle cx="486.20" cy="311.36" r="1.6"/><circle cx="486.97" cy="311.00" r="1.6"/><circle cx="487.74" cy="310.56" r="1.6"/><circle cx="488.51" cy="303.35" r="1.6"/><circle cx="489.28" cy="317.90" r="1.6"/><circle cx="490.05" cy="312.40" r="1.6"/><circle cx="490.82" cy="308.49" r="1.6"/><circle cx="491.59" cy="313.00" r="1.6"/><circle cx="492.36" cy="306.55" r="1.6"/><circle cx="493.13" cy="314.66" r="1.6"/><circle cx="493.90" cy="312.69" r="1.6"/><circle cx="494.67" cy="308.20" r="1.6"/><circle cx="495.44" cy="313.30" r="1.6"/><circle cx="496.21" cy="310.13" r="1.6"/><circle cx="496.98" cy="313.36" r="1.6"/><circle cx="497.75" cy="309.60" r="1.6"/><circle cx="498.52" cy="318.26" r="1.6"/><circle cx="499.29" cy="302.00" r="1.6"/><circle cx="500.06" cy="313.58" r="1.6"/><circle cx="500.83" cy="301.80" r="1.6"/><circle cx="501.59" cy="308.20" r="1.6"/><circle cx="502.36" cy="317.05" r="1.6"/><circle cx="503.13" cy="309.28" r="1.6"/><circle cx="503.90" cy="307.00" r="1.6"/><circle cx="504.67" cy="310.53" r="1.6"/><circle cx="505.44" cy="305.60" r="1.6"/><circle cx="506.21" cy="311.64" r="1.6"/><circle cx="506.98" cy="297.17" r="1.6"/><circle cx="507.75" cy="304.90" r="1.6"/><circle cx="508.52" cy="313.35" r="1.6"/><circle cx="509.29" cy="323.40" r="1.6"/><circle cx="510.06" cy="309.34" r="1.6"/><circle cx="510.83" cy="304.56" r="1.6"/><circle cx="511.60" cy="307.50" r="1.6"/><circle cx="512.37" cy="313.70" r="1.6"/><circle cx="513.14" cy="312.22" r="1.6"/><circle cx="513.91" cy="315.10" r="1.6"/><circle cx="514.68" cy="311.20" r="1.6"/><circle cx="515.45" cy="310.49" r="1.6"/><circle cx="516.22" cy="301.03" r="1.6"/><circle cx="516.99" cy="312.88" r="1.6"/><circle cx="517.76" cy="319.80" r="1.6"/><circle cx="518.52" cy="309.00" r="1.6"/><circle cx="519.29" cy="311.69" r="1.6"/><circle cx="520.06" cy="309.80" r="1.6"/><circle cx="520.83" cy="304.04" r="1.6"/><circle cx="521.60" cy="309.78" r="1.6"/><circle cx="522.37" cy="308.90" r="1.6"/><circle cx="523.14" cy="311.70" r="1.6"/><circle cx="523.91" cy="309.23" r="1.6"/><circle cx="524.68" cy="318.82" r="1.6"/><circle cx="525.45" cy="314.25" r="1.6"/><circle cx="526.22" cy="306.73" r="1.6"/><circle cx="526.99" cy="309.40" r="1.6"/><circle cx="527.76" cy="310.30" r="1.6"/><circle cx="528.53" cy="311.93" r="1.6"/><circle cx="529.30" cy="313.60" r="1.6"/><circle cx="530.07" cy="310.92" r="1.6"/><circle cx="530.84" cy="315.97" r="1.6"/><circle cx="531.61" cy="312.27" r="1.6"/><circle cx="532.38" cy="313.19" r="1.6"/><circle cx="533.15" cy="306.23" r="1.6"/><circle cx="533.92" cy="311.36" r="1.6"/><circle cx="534.69" cy="306.45" r="1.6"/><circle cx="535.45" cy="309.62" r="1.6"/><circle cx="536.22" cy="315.28" r="1.6"/><circle cx="536.99" cy="309.57" r="1.6"/><circle cx="537.76" cy="310.26" r="1.6"/><circle cx="538.53" cy="309.80" r="1.6"/><circle cx="539.30" cy="309.05" r="1.6"/><circle cx="540.07" cy="312.48" r="1.6"/><circle cx="540.84" cy="306.47" r="1.6"/><circle cx="541.61" cy="313.03" r="1.6"/><circle cx="542.38" cy="311.45" r="1.6"/><circle cx="543.15" cy="311.60" r="1.6"/><circle cx="543.92" cy="312.49" r="1.6"/><circle cx="544.69" cy="311.00" r="1.6"/><circle cx="545.46" cy="312.80" r="1.6"/><circle cx="546.23" cy="307.00" r="1.6"/><circle cx="547.00" cy="309.10" r="1.6"/><circle cx="547.77" cy="311.78" r="1.6"/><circle cx="548.54" cy="312.50" r="1.6"/><circle cx="549.31" cy="310.70" r="1.6"/><circle cx="550.08" cy="311.37" r="1.6"/><circle cx="550.85" cy="308.04" r="1.6"/><circle cx="551.62" cy="312.28" r="1.6"/><circle cx="552.38" cy="310.30" r="1.6"/><circle cx="553.15" cy="299.07" r="1.6"/><circle cx="553.92" cy="299.36" r="1.6"/><circle cx="554.69" cy="289.60" r="1.6"/><circle cx="555.46" cy="271.93" r="1.6"/><circle cx="556.23" cy="300.21" r="1.6"/><circle cx="557.00" cy="302.68" r="1.6"/><circle cx="557.77" cy="310.07" r="1.6"/><circle cx="558.54" cy="326.46" r="1.6"/><circle cx="559.31" cy="315.84" r="1.6"/><circle cx="560.08" cy="311.68" r="1.6"/><circle cx="560.85" cy="313.38" r="1.6"/><circle cx="561.62" cy="310.91" r="1.6"/><circle cx="562.39" cy="311.54" r="1.6"/><circle cx="563.16" cy="312.34" r="1.6"/><circle cx="563.93" cy="313.26" r="1.6"/><circle cx="564.70" cy="314.18" r="1.6"/><circle cx="565.47" cy="313.89" r="1.6"/><circle cx="566.24" cy="313.42" r="1.6"/><circle cx="567.01" cy="312.58" r="1.6"/><circle cx="567.78" cy="311.41" r="1.6"/><circle cx="568.54" cy="310.24" r="1.6"/><circle cx="569.31" cy="309.75" r="1.6"/><circle cx="570.08" cy="309.45" r="1.6"/><circle cx="570.85" cy="309.14" r="1.6"/><circle cx="571.62" cy="305.28" r="1.6"/><circle cx="572.39" cy="300.20" r="1.6"/><circle cx="573.16" cy="300.20" r="1.6"/><circle cx="573.93" cy="304.84" r="1.6"/><circle cx="574.70" cy="308.27" r="1.6"/><circle cx="575.47" cy="310.99" r="1.6"/><circle cx="576.24" cy="310.74" r="1.6"/><circle cx="577.01" cy="309.23" r="1.6"/><circle cx="577.78" cy="307.72" r="1.6"/><circle cx="578.55" cy="307.77" r="1.6"/><circle cx="579.32" cy="309.69" r="1.6"/><circle cx="580.09" cy="305.73" r="1.6"/><circle cx="580.86" cy="298.36" r="1.6"/><circle cx="581.63" cy="304.61" r="1.6"/><circle cx="582.40" cy="307.93" r="1.6"/><circle cx="583.17" cy="310.34" r="1.6"/><circle cx="583.94" cy="309.65" r="1.6"/><circle cx="584.71" cy="308.97" r="1.6"/><circle cx="585.47" cy="308.28" r="1.6"/><circle cx="586.24" cy="308.03" r="1.6"/><circle cx="587.01" cy="308.33" r="1.6"/><circle cx="587.78" cy="308.61" r="1.6"/><circle cx="588.55" cy="308.90" r="1.6"/><circle cx="589.32" cy="308.65" r="1.6"/><circle cx="590.09" cy="308.12" r="1.6"/><circle cx="590.86" cy="307.48" r="1.6"/><circle cx="591.63" cy="306.83" r="1.6"/><circle cx="592.40" cy="306.19" r="1.6"/><circle cx="593.17" cy="307.48" r="1.6"/><circle cx="593.94" cy="309.06" r="1.6"/><circle cx="594.71" cy="308.30" r="1.6"/><circle cx="595.48" cy="306.33" r="1.6"/><circle cx="596.25" cy="305.16" r="1.6"/><circle cx="597.02" cy="305.66" r="1.6"/><circle cx="597.79" cy="305.85" r="1.6"/><circle cx="598.56" cy="303.60" r="1.6"/><circle cx="599.33" cy="302.65" r="1.6"/><circle cx="600.10" cy="302.29" r="1.6"/><circle cx="600.87" cy="301.91" r="1.6"/><circle cx="601.64" cy="303.17" r="1.6"/><circle cx="602.40" cy="304.49" r="1.6"/><circle cx="603.17" cy="302.19" r="1.6"/><circle cx="603.94" cy="301.83" r="1.6"/><circle cx="604.71" cy="302.70" r="1.6"/><circle cx="605.48" cy="303.58" r="1.6"/><circle cx="606.25" cy="304.94" r="1.6"/><circle cx="607.02" cy="306.33" r="1.6"/><circle cx="607.79" cy="307.71" r="1.6"/><circle cx="608.56" cy="306.58" r="1.6"/><circle cx="609.33" cy="305.26" r="1.6"/><circle cx="610.10" cy="304.23" r="1.6"/><circle cx="610.87" cy="303.20" r="1.6"/><circle cx="611.64" cy="305.16" r="1.6"/><circle cx="612.41" cy="307.66" r="1.6"/><circle cx="613.18" cy="308.27" r="1.6"/><circle cx="613.95" cy="308.95" r="1.6"/><circle cx="614.72" cy="309.72" r="1.6"/><circle cx="615.49" cy="310.42" r="1.6"/><circle cx="616.26" cy="310.94" r="1.6"/><circle cx="617.03" cy="311.45" r="1.6"/><circle cx="617.80" cy="311.38" r="1.6"/><circle cx="618.56" cy="310.75" r="1.6"/><circle cx="619.33" cy="310.13" r="1.6"/><circle cx="620.10" cy="310.29" r="1.6"/><circle cx="620.87" cy="310.65" r="1.6"/><circle cx="621.64" cy="310.98" r="1.6"/><circle cx="622.41" cy="310.68" r="1.6"/><circle cx="623.18" cy="310.36" r="1.6"/><circle cx="623.95" cy="310.06" r="1.6"/></g>
<path d="M40.5 14.5H635.5V397.5H40.5Z" fill="none" stroke="#686868" stroke-width="1"/>
</svg></body></html>
